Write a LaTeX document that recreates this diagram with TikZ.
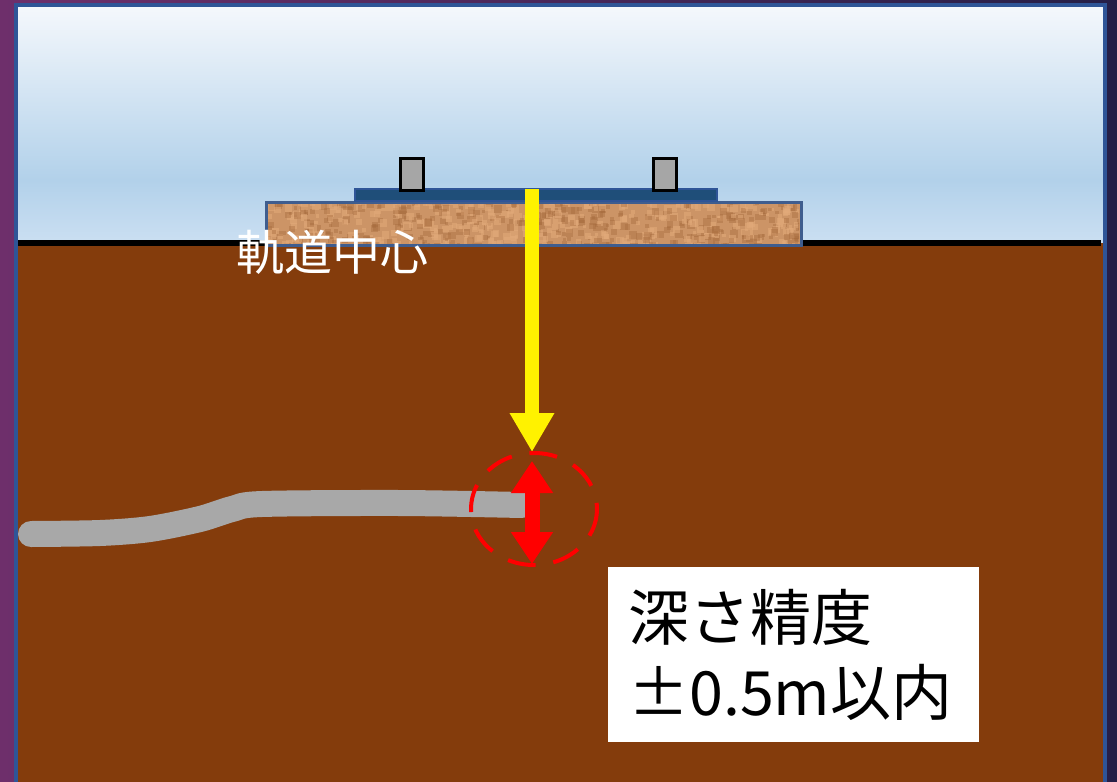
\documentclass[tikz,border=0pt]{standalone}
\usepackage{fontspec}
\setmainfont{Noto Sans CJK JP}
\usetikzlibrary{positioning, arrows.meta, calc}

\definecolor{skytop}{HTML}{F5F8FC}
\definecolor{skymid}{HTML}{B2D1EA}
\definecolor{skylow}{HTML}{CBDFF2}
\definecolor{soil}{HTML}{843C0C}
\definecolor{frameblue}{HTML}{2F5597}
\definecolor{sleeperblue}{HTML}{1F4E79}
\definecolor{ballastedge}{HTML}{3F5D8E}
\definecolor{stone}{HTML}{CC9466}
\definecolor{stonedark}{HTML}{A66A3C}
\definecolor{stonelight}{HTML}{E2AA7A}
\definecolor{railgray}{HTML}{A6A6A6}
\definecolor{pipegray}{HTML}{A8A8A8}

\begin{document}
\begin{tikzpicture}[
        x=1pt, y=-1pt,
        ballast/.style={draw=ballastedge, line width=3, fill=stone},
        sleeper/.style={draw=frameblue, line width=1.5, fill=sleeperblue},
        rail/.style={draw=black, line width=3, fill=railgray},
        pipe/.style={pipegray, line width=26, line cap=round, line join=round},
        yarrow/.style={yellow, line width=14, -{Triangle[width=42pt, length=39pt]}},
        errarrow/.style={red, line width=15, {Triangle[width=40pt, length=32pt]}-{Triangle[width=40pt, length=32pt]}},
        tolring/.style={red, line width=4, dash pattern=on 28pt off 18pt},
        info/.style={fill=white, minimum width=371, minimum height=175, inner sep=0pt},
        infotext/.style={align=left, font=\fontsize{61}{75}\selectfont, inner sep=0pt},
        tag/.style={white, font=\fontsize{48}{56}\selectfont, inner sep=0pt}
    ]
    \useasboundingbox (0,0) rectangle (1117,782);
    \shade[left color={rgb,255:red,110;green,47;blue,107}, right color={rgb,255:red,37;green,31;blue,71}] (0,0) rectangle (1117,782);

    % sky and ground
    \shade[top color=skytop, bottom color=skymid] (16,5) rectangle (1105,180);
    \shade[top color=skymid, bottom color=skylow] (16,180) rectangle (1105,243);
    \fill[soil] (16,243) rectangle (1105,782);
    \draw[black, line width=6] (16,243) -- (1101,243);
    \draw[frameblue, line width=4] (16,790) |- (1105,4.7) -- (1105,790);

    % ballast with gravel speckles
    \draw[ballast] (266,202) rectangle (801,245);
    \begin{scope}
        \clip (268,204) rectangle (799,243);
        \pgfmathsetseed{42}
        \foreach \i in {1,...,700} {
            \pgfmathsetmacro\gx{264+rnd*536}
            \pgfmathsetmacro\gy{200+rnd*44}
            \pgfmathsetmacro\gs{3+rnd*5}
            \ifodd\i
                \fill[stonedark, opacity=0.4] (\gx,\gy) rectangle ++(\gs,\gs);
            \else
                \fill[stonelight, opacity=0.55] (\gx,\gy) rectangle ++(\gs,\gs);
            \fi
        }
    \end{scope}

    % sleeper and rails
    \draw[sleeper] (355,189) rectangle (717,201);
    \draw[rail] (400,158) rectangle (423,190);
    \draw[rail] (653,158) rectangle (676,190);

    \node[tag, anchor=west] (center) at (236,252) {軌道中心};

    % buried pipe
    \draw[pipe] plot[smooth, tension=0.5] coordinates {(31,534) (100,533) (150,529) (200,519) (232,509) (262,504) (400,503) (522,505)};

    % depth from track centre
    \coordinate (trackc) at (532,189);
    \coordinate (depth) at (532,452);
    \draw[yarrow] (trackc) -- (depth);

    % depth tolerance
    \coordinate (tol) at (534,509);
    \coordinate (errtop) at (532,461);
    \coordinate (errbot) at (532,564);
    \draw[tolring] (tol) ellipse [x radius=63, y radius=56];
    \draw[errarrow] (errtop) -- (errbot);

    \node[info, anchor=north west] (acc) at (608,567) {};
    \node[infotext, anchor=west] (acctext) at ($(acc.west)+(20,0)$) {深さ精度\\±0.5m以内};
\end{tikzpicture}
\end{document}
